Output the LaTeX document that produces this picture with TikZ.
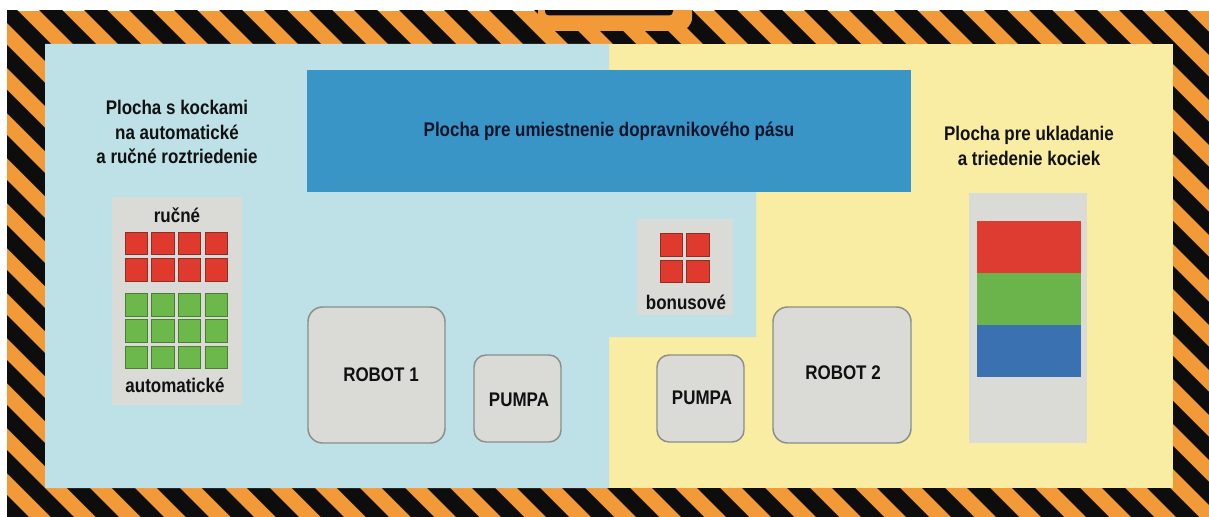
\documentclass[tikz,border=0pt]{standalone}
\usepackage{fontspec}
\setmainfont{Liberation Sans}[FakeStretch=0.86]
\definecolor{hazOrange}{HTML}{F29A38}
\definecolor{hazBlack}{HTML}{0D0D0D}
\definecolor{zoneBlue}{HTML}{BDE1E6}
\definecolor{zoneYellow}{HTML}{F8EDA3}
\definecolor{belt}{HTML}{3A95C7}
\definecolor{boxGray}{HTML}{DADAD7}
\definecolor{boxEdge}{HTML}{8C8E8A}
\definecolor{cubeR}{HTML}{E0392D}
\definecolor{cubeRb}{HTML}{8E2E25}
\definecolor{cubeG}{HTML}{6DB84A}
\definecolor{cubeGb}{HTML}{4B7E33}
\definecolor{stripR}{HTML}{DE3C31}
\definecolor{stripG}{HTML}{6BB44B}
\definecolor{stripB}{HTML}{3A71B0}
\definecolor{txt}{HTML}{111111}
\definecolor{txtDark}{HTML}{0B1428}
\tikzset{
  lbl/.style={font=\bfseries\fontsize{14.8}{18.4}\selectfont, text=txt, align=center, inner sep=0pt},
  beltlbl/.style={lbl, text=txtDark},
  unitbox/.style={fill=boxGray, draw=boxEdge, line width=1.1pt},
  redcube/.style={fill=cubeR, draw=cubeRb, line width=0.7pt},
  greencube/.style={fill=cubeG, draw=cubeGb, line width=0.7pt},
}
\begin{document}
\begin{tikzpicture}[x=0.75pt,y=-0.75pt]
\useasboundingbox (0,0) rectangle (1209,517);
\fill[white] (0,0) rectangle (1209,517);
% hazard border
\begin{scope}
  \clip (7,11) rectangle (1209,517);
  \fill[hazOrange] (7,11) rectangle (1209,517);
  \foreach \k in {-13,...,27}
    \fill[hazBlack] ({29+45*\k},0) -- ++(23,0) -- ++(517,517) -- ++(-23,0) -- cycle;
  \fill[hazOrange, rounded corners=10pt] (538,-20) rectangle (692,31);
  \fill[hazBlack, rounded corners=3pt] (545,0) rectangle (673,15.5);
\end{scope}
% zones
\fill[zoneYellow] (45,44) rectangle (1173,488);
\fill[zoneBlue] (45,44) -- (609,44) -- (609,130) -- (756,130) -- (756,337)
  -- (609,337) -- (609,488) -- (45,488) -- cycle;
% conveyor
\fill[belt] (307,70) rectangle (911,192);
\node[beltlbl] (belt) at (609,131) {Plocha pre umiestnenie dopravnikového pásu};
% left area
\node[lbl] (lefttitle) at (177,132) {Plocha s kockami\\na automatické\\a ručné roztriedenie};
\fill[boxGray] (112,197) rectangle (242,405);
\node[lbl] (rucne) at (177,215) {ručné};
\foreach \i in {0,...,3}{
  \foreach \j in {0,1}
    \draw[redcube] ({125+26.67*\i},{232+26.67*\j}) rectangle ++(22.5,22.5);
  \foreach \j in {0,1,2}
    \draw[greencube] ({125+26.67*\i},{293.5+26.4*\j}) rectangle ++(22.5,22.5);
}
\node[lbl] (auto) at (175,385) {automatické};
% bonus
\fill[boxGray] (637,219) rectangle (733,315);
\foreach \i in {0,1}
  \foreach \j in {0,1}
    \draw[redcube] ({660+26.67*\i},{233.5+26.67*\j}) rectangle ++(22.5,22.5);
\node[lbl] (bonus) at (686,302) {bonusové};
% right area
\node[lbl] (righttitle) at (1029,146) {Plocha pre ukladanie\\a triedenie kociek};
\fill[boxGray] (969,193) rectangle (1087,443);
\fill[stripR] (977,221) rectangle (1081,273);
\fill[stripG] (977,273) rectangle (1081,325);
\fill[stripB] (977,325) rectangle (1081,377);
% robots and pumps
\draw[unitbox, rounded corners=11pt] (308,307) rectangle (445,443);
\node[lbl] (robot1) at (381,375) {ROBOT 1};
\draw[unitbox, rounded corners=9pt] (474,355) rectangle (561,442);
\node[lbl] (pumpa1) at (519,400) {PUMPA};
\draw[unitbox, rounded corners=9pt] (657,355) rectangle (744,442);
\node[lbl] (pumpa2) at (702,398) {PUMPA};
\draw[unitbox, rounded corners=11pt] (773,307) rectangle (911,443);
\node[lbl] (robot2) at (843,373) {ROBOT 2};
\end{tikzpicture}
\end{document}
